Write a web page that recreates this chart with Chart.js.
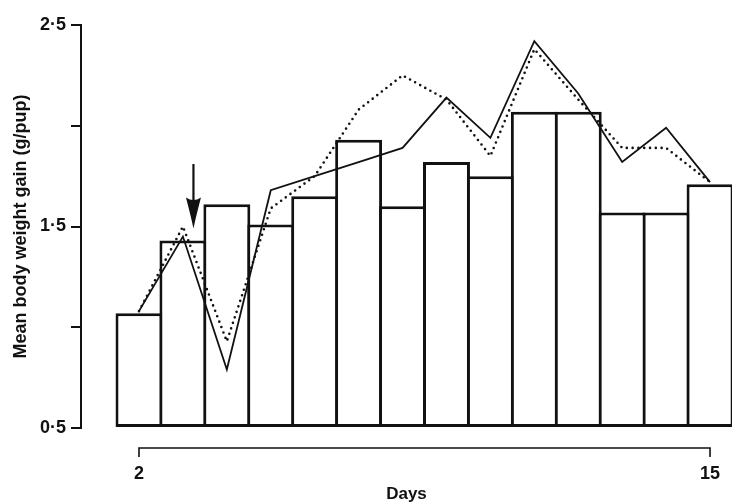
<!DOCTYPE html>
<html>
<head>
<meta charset="utf-8">
<title>Mean body weight gain</title>
<script src="https://cdn.jsdelivr.net/npm/chart.js@4.4.1/dist/chart.umd.min.js"></script>
<style>
  html, body { margin: 0; padding: 0; background: #ffffff; }
  #wrap { width: 735px; height: 503px; }
</style>
</head>
<body>
<div id="wrap"><canvas id="chart" width="735" height="503"></canvas></div>
<script>
// Days of lactation
const days = [2, 3, 4, 5, 6, 7, 8, 9, 10, 11, 12, 13, 14, 15];
// Mean body weight gain per pup (g), shown as bars
const barGain = [1.07, 1.43, 1.61, 1.51, 1.65, 1.93, 1.60, 1.82, 1.75, 2.07, 2.07, 1.57, 1.57, 1.71];
// Mean body weight gain, solid line
const solidGain = [1.08, 1.45, 0.79, 1.68, 1.75, 1.82, 1.89, 2.14, 1.94, 2.42, 2.16, 1.82, 1.99, 1.72];
// Mean body weight gain, dotted line
const dottedGain = [1.08, 1.50, 0.93, 1.59, 1.75, 2.08, 2.25, 2.13, 1.85, 2.38, 2.13, 1.89, 1.89, 1.72];
// Labelled day ticks and labelled gain ticks
const dayTicks = [2, 15];
const gainLabels = [0.5, 1.5, 2.5];
// Arrow marking the start of treatment (day position, top and tip in g/pup)
const arrowDay = 3.24;
const arrowFrom = 1.81;
const arrowTo = 1.49;

const FONT = "'Liberation Sans', Arial, Helvetica, sans-serif";
const INK = '#111111';
const BAR_EDGE = 3;
const DAY_PX = 651 / (15.5 - 0.68);

const toPoints = (vals) => days.map((d, i) => ({ x: d, y: vals[i] }));

// Bracket under the bars spanning the first to the last day
const dayBracket = {
  id: 'dayBracket',
  afterDraw(chart) {
    const { ctx, chartArea, scales } = chart;
    const x0 = scales.x.getPixelForValue(dayTicks[0]);
    const x1 = scales.x.getPixelForValue(dayTicks[dayTicks.length - 1]);
    const y = chartArea.bottom + 20;
    ctx.save();
    ctx.strokeStyle = INK;
    ctx.lineWidth = 1.6;
    ctx.beginPath();
    ctx.moveTo(x0, y + 9);
    ctx.lineTo(x0, y);
    ctx.lineTo(x1, y);
    ctx.lineTo(x1, y + 9);
    ctx.stroke();
    ctx.restore();
  }
};

// Downward arrow annotation
const arrowMark = {
  id: 'arrowMark',
  afterDatasetsDraw(chart) {
    const { ctx, scales } = chart;
    const x = scales.x.getPixelForValue(arrowDay);
    const yTop = scales.y.getPixelForValue(arrowFrom);
    const yTip = scales.y.getPixelForValue(arrowTo);
    const headLen = 31, headHalf = 7.5;
    ctx.save();
    ctx.strokeStyle = INK;
    ctx.fillStyle = INK;
    ctx.lineWidth = 2.2;
    ctx.beginPath();
    ctx.moveTo(x, yTop);
    ctx.lineTo(x, yTip - headLen + 6);
    ctx.stroke();
    ctx.beginPath();
    ctx.moveTo(x - headHalf, yTip - headLen);
    ctx.quadraticCurveTo(x, yTip - headLen + 5, x + headHalf, yTip - headLen);
    ctx.quadraticCurveTo(x + 2.5, yTip - 12, x, yTip);
    ctx.quadraticCurveTo(x - 2.5, yTip - 12, x - headHalf, yTip - headLen);
    ctx.closePath();
    ctx.fill();
    ctx.restore();
  }
};

new Chart(document.getElementById('chart'), {
  type: 'bar',
  data: {
    datasets: [
      {
        type: 'line',
        data: toPoints(solidGain),
        borderColor: INK,
        borderWidth: 1.8,
        pointRadius: 0,
        tension: 0,
        fill: false,
        order: 1
      },
      {
        type: 'line',
        data: toPoints(dottedGain),
        borderColor: INK,
        borderWidth: 2.6,
        borderDash: [0, 5.8],
        borderCapStyle: 'round',
        pointRadius: 0,
        tension: 0,
        fill: false,
        order: 2
      },
      {
        type: 'bar',
        data: toPoints(barGain),
        base: 0.5,
        backgroundColor: '#ffffff',
        borderColor: INK,
        borderSkipped: false,
        borderWidth: BAR_EDGE,
        inflateAmount: 0,
        // adjacent bars overlap by one edge width so shared walls stay one line thick
        barPercentage: (DAY_PX + BAR_EDGE) / DAY_PX,
        categoryPercentage: 1,
        order: 3
      }
    ]
  },
  options: {
    responsive: false,
    animation: false,
    devicePixelRatio: 1,
    layout: { padding: { top: 25, right: 3, bottom: 0, left: 0 } },
    plugins: {
      legend: { display: false },
      tooltip: { enabled: false }
    },
    scales: {
      x: {
        type: 'linear',
        min: 0.68,
        max: 15.5,
        offset: false,
        border: { display: false },
        // invisible tick marks only push the day labels below the bracket
        grid: { display: true, drawOnChartArea: false, drawTicks: true, tickLength: 35, color: 'rgba(0,0,0,0)' },
        afterBuildTicks: (scale) => { scale.ticks = dayTicks.map(v => ({ value: v })); },
        afterFit: (scale) => { scale.height = 75; },
        ticks: {
          padding: 0,
          color: INK,
          maxRotation: 0,
          autoSkip: false,
          font: { family: FONT, size: 18, weight: 'bold' },
          callback: (v) => String(v)
        },
        title: {
          display: true,
          text: 'Days',
          color: INK,
          padding: { top: 0, bottom: 0 },
          font: { family: FONT, size: 17, weight: 'bold', lineHeight: 1.0 }
        }
      },
      y: {
        min: 0.5,
        max: 2.5,
        border: { display: true, color: INK, width: 2 },
        grid: { display: true, drawOnChartArea: false, drawTicks: true, tickLength: 10, color: INK, lineWidth: 2 },
        afterFit: (scale) => { scale.width = 81; },
        ticks: {
          stepSize: 0.5,
          padding: 5,
          color: INK,
          font: { family: FONT, size: 18, weight: 'bold' },
          callback: (v) => gainLabels.some(g => Math.abs(g - v) < 1e-9) ? v.toFixed(1).replace('.', '\u00B7') : ''
        },
        title: {
          display: true,
          text: 'Mean body weight gain (g/pup)',
          color: INK,
          padding: { top: 10, bottom: 0 },
          font: { family: FONT, size: 18, weight: 'bold' }
        }
      }
    }
  },
  plugins: [dayBracket, arrowMark]
});
</script>
</body>
</html>
